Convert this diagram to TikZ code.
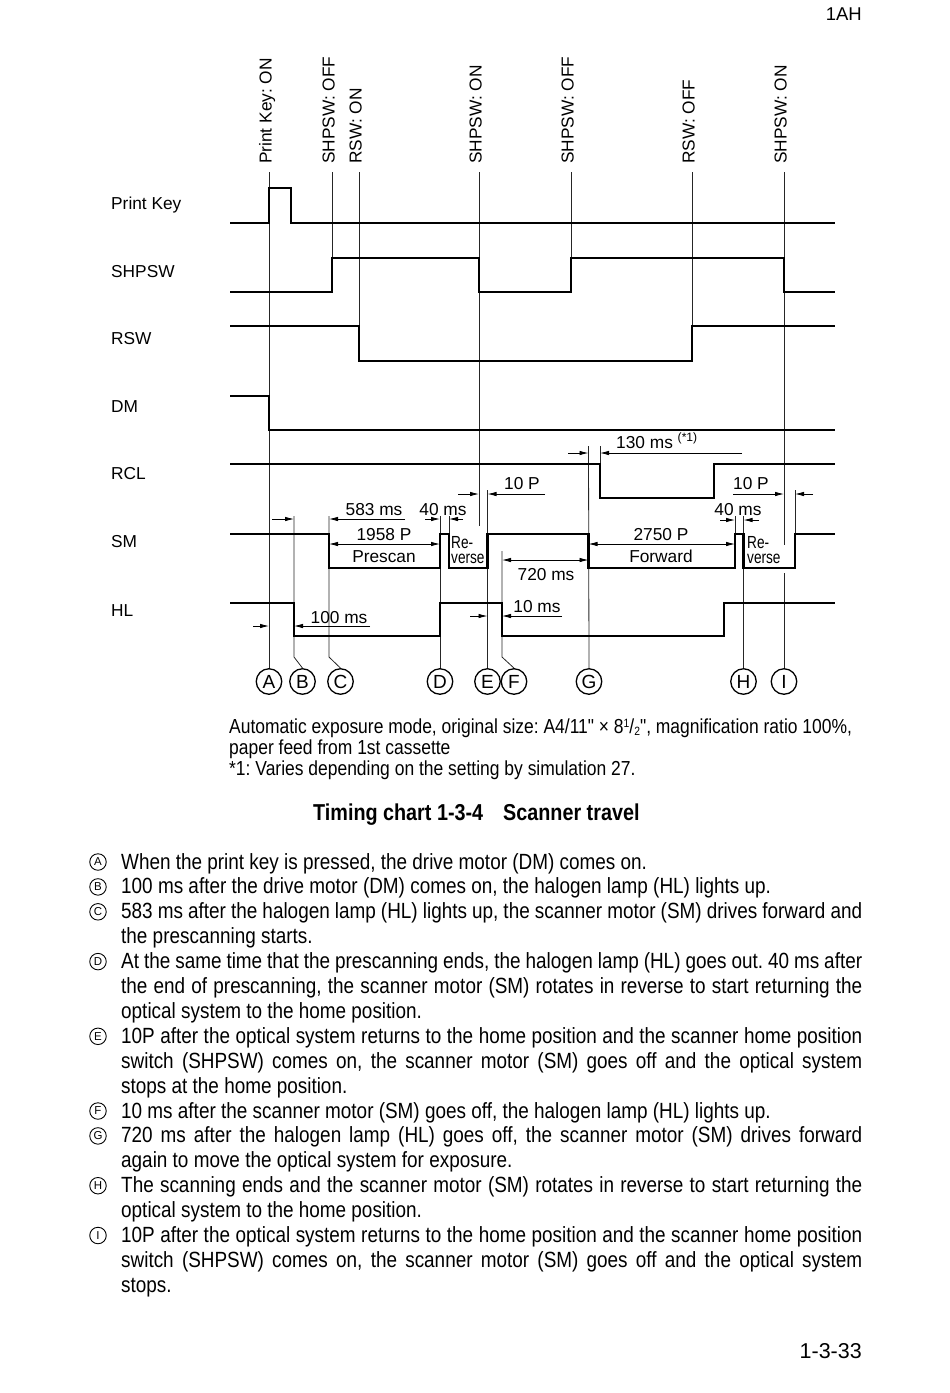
\documentclass[tikz,border=0pt]{standalone}
\usepackage{fontspec}
\setmainfont{Liberation Sans}
\newfontfamily\narrowfam[FakeStretch=0.86]{Liberation Sans}
\newfontfamily\tightfam[FakeStretch=0.78]{Liberation Sans}
\usetikzlibrary{arrows.meta}
\frenchspacing

\tikzset{
  sig/.style={line width=2.2pt},
  guide/.style={line width=0.8pt, black!85},
  dimr/.style={line width=0.8pt, -{Latex[length=9pt,width=4.5pt]}},
  dimlr/.style={line width=0.8pt, {Latex[length=9pt,width=4.5pt]}-{Latex[length=9pt,width=4.5pt]}},
  rowlabel/.style={anchor=base west, inner sep=0, font=\fontsize{17.3}{19}\selectfont},
  swlabel/.style={rotate=90, anchor=mid west, inner sep=0, font=\fontsize{17.3}{19}\selectfont},
  dimtxt/.style={anchor=base, inner sep=0, font=\fontsize{17.3}{19}\selectfont},
  revtxt/.style={anchor=base west, inner sep=0, align=left, font=\tightfam\fontsize{17.5}{15}\selectfont},
  evt/.style={circle, draw, line width=1.3pt, minimum size=25.5pt, inner sep=0, font=\fontsize{19}{20}\selectfont},
  itemmk/.style={circle, draw, line width=0.9pt, minimum size=16.5pt, inner sep=0, font=\fontsize{11.5}{12}\selectfont},
  itemtxt/.style={anchor=base west, inner sep=0, text width=741pt, align=justify, font=\narrowfam\fontsize{22}{24.9}\selectfont},
}
\newcommand{\smallfig}[1]{{\fontsize{12}{12}\selectfont #1}}

\begin{document}
\begin{tikzpicture}[x=1pt, y=-1pt]
  \useasboundingbox (0,0) rectangle (950,1393);

  \node[anchor=base east, inner sep=0, font=\fontsize{18.5}{20}\selectfont] (pgtop) at (862,20) {1AH};
  \node[anchor=base east, inner sep=0, font=\fontsize{21.5}{23}\selectfont] (pgnum) at (862,1358) {1-3-33};

  % switch events on top
  \node[swlabel] (sw1) at (269,164) {Print Key: ON};
  \node[swlabel] (sw2) at (332,164) {SHPSW: OFF};
  \node[swlabel] (sw3) at (359,164) {RSW: ON};
  \node[swlabel] (sw4) at (479,164) {SHPSW: ON};
  \node[swlabel] (sw5) at (571,164) {SHPSW: OFF};
  \node[swlabel] (sw6) at (692,164) {RSW: OFF};
  \node[swlabel] (sw7) at (784,164) {SHPSW: ON};

  % signal names
  \node[rowlabel] (lpk) at (111,209) {Print Key};
  \node[rowlabel] (lshp) at (111,277) {SHPSW};
  \node[rowlabel] (lrsw) at (111,344) {RSW};
  \node[rowlabel] (ldm) at (111,412) {DM};
  \node[rowlabel] (lrcl) at (111,479) {RCL};
  \node[rowlabel] (lsm) at (111,547) {SM};
  \node[rowlabel] (lhl) at (111,616) {HL};

  % event circles
  \node[evt] (cA) at (269,681.5) {A};
  \node[evt] (cB) at (302.5,681.5) {B};
  \node[evt] (cC) at (340.5,681.5) {C};
  \node[evt] (cD) at (440,681.5) {D};
  \node[evt] (cE) at (487.5,681.5) {E};
  \node[evt] (cF) at (514,681.5) {F};
  \node[evt] (cG) at (589,681.5) {G};
  \node[evt] (cH) at (743.5,681.5) {H};
  \node[evt] (cI) at (784,681.5) {I};

  % thin guide lines
  \draw[guide] (269,172) -- (cA.north);
  \draw[guide] (332,172) -- (332,258);
  \draw[guide] (359,172) -- (359,326);
  \draw[guide] (479,172) -- (479,526);
  \draw[guide] (571,172) -- (571,258);
  \draw[guide] (692,172) -- (692,361);
  \draw[guide] (784,172) -- (784,545);
  \draw[guide] (784,573) -- (cI.north);
  \draw[guide] (294,516) -- (294,657) -- (cB.north);
  \draw[guide] (329,516) -- (329,657) -- (cC.north);
  \draw[guide] (440,516) -- (cD.north);
  \draw[guide] (449,516) -- (449,534);
  \draw[guide] (487.5,490) -- (cE.north);
  \draw[guide] (502,551) -- (502,657) -- (cF.north);
  \draw[guide] (588.5,446) -- (cG.north);
  \draw[guide] (600,446) -- (600,464);
  \draw[guide] (743.5,516) -- (cH.north);
  \draw[guide] (735,516) -- (735,534);
  \draw[guide] (795,490) -- (795,534);

  % signals
  \draw[sig] (230,223) -| (269,188) -| (291,223) -- (835,223);
  \draw[sig] (230,292) -| (332,258) -| (479,292) -| (571,258) -| (784,292) -- (835,292);
  \draw[sig] (230,326) -| (359,361) -| (692,326) -- (835,326);
  \draw[sig] (230,396) -| (269,430) -- (835,430);
  \draw[sig] (230,464) -| (600,498) -| (714,464) -- (835,464);
  \draw[sig] (230,534) -| (329,568) -| (440,534) -| (449,568) -| (487.5,534) -| (588.5,568)
    -| (735,534) -| (743.5,568) -| (795,534) -- (835,534);
  \draw[sig] (230,603) -| (294,636) -| (440,603) -| (502,636) -| (724,603) -- (835,603);

  % timings
  \draw[dimr] (272,519) -- (294,519);
  \draw[dimr] (405,519) -- (329,519);
  \node[dimtxt] (t583) at (374,515) {583 ms};
  \draw[dimr] (425,519) -- (440,519);
  \draw[dimr] (463,519) -- (449,519);
  \node[dimtxt] (t40a) at (443,515) {40 ms};
  \draw[dimlr] (329,544) -- (440,544);
  \node[dimtxt] (t1958) at (384,540) {1958 P};
  \node[dimtxt] (tpre) at (384,562) {Prescan};
  \node[revtxt] (rev1) at (451,563) {Re-\\verse};
  \draw[dimr] (458,494) -- (479,494);
  \draw[dimr] (545,494) -- (487.5,494);
  \node[dimtxt] (t10pa) at (522,489) {10 P};
  \draw[dimr] (568,453) -- (588.5,453);
  \draw[dimr] (742,453) -- (600,453);
  \node[anchor=base west, inner sep=0, font=\fontsize{17.3}{19}\selectfont] (t130) at (616,448) {130 ms \textsuperscript{(*1)}};
  \draw[dimlr] (502,560) -- (588.5,560);
  \node[dimtxt] (t720) at (546,580) {720 ms};
  \draw[dimlr] (588.5,544) -- (735,544);
  \node[dimtxt] (t2750) at (661,540) {2750 P};
  \node[dimtxt] (tfwd) at (661,562) {Forward};
  \node[revtxt] (rev2) at (747,563) {Re-\\verse};
  \draw[dimr] (720,520) -- (735,520);
  \draw[dimr] (759,520) -- (743.5,520);
  \node[dimtxt] (t40b) at (738,515) {40 ms};
  \draw[dimr] (733,494) -- (784,494);
  \draw[dimr] (813,494) -- (795,494);
  \node[dimtxt] (t10pb) at (751,489) {10 P};
  \draw[dimr] (253,626) -- (269,626);
  \draw[dimr] (370,626) -- (294,626);
  \node[dimtxt] (t100) at (339,623) {100 ms};
  \draw[dimr] (470,616) -- (487.5,616);
  \draw[dimr] (562,616) -- (502,616);
  \node[dimtxt] (t10ms) at (537,612) {10 ms};

  % notes and caption
  \node[anchor=base west, inner sep=0, align=left, font=\narrowfam\fontsize{20.3}{21}\selectfont] (note) at (229,775)
    {Automatic exposure mode, original size: A4/11" × 8\raisebox{6pt}{\smallfig{1}}/\raisebox{-2.5pt}{\smallfig{2}}", magnification ratio 100\%,\\paper feed from 1st cassette\\{}*1: Varies depending on the setting by simulation 27.};
  \node[anchor=base west, inner sep=0, font=\narrowfam\bfseries\fontsize{23}{25}\selectfont] (title) at (313,820)
    {Timing chart 1-3-4\hspace{20pt}Scanner travel};

  % step list
  \node[itemmk] (mA) at (98,862) {A};
  \node[itemtxt] (tA) at (121,869) {When the print key is pressed, the drive motor (DM) comes on.};
  \node[itemmk] (mB) at (98,886.9) {B};
  \node[itemtxt] (tB) at (121,893.9) {100 ms after the drive motor (DM) comes on, the halogen lamp (HL) lights up.};
  \node[itemmk] (mC) at (98,911.8) {C};
  \node[itemtxt] (tC) at (121,918.8) {583 ms after the halogen lamp (HL) lights up, the scanner motor (SM) drives forward and\linebreak the prescanning starts.};
  \node[itemmk] (mD) at (98,961.6) {D};
  \node[itemtxt] (tD) at (121,968.6) {At the same time that the prescanning ends, the halogen lamp (HL) goes out. 40 ms after\linebreak the end of prescanning, the scanner motor (SM) rotates in reverse to start returning the\linebreak optical system to the home position.};
  \node[itemmk] (mE) at (98,1036.3) {E};
  \node[itemtxt] (tE) at (121,1043.3) {10P after the optical system returns to the home position and the scanner home position\linebreak switch (SHPSW) comes on, the scanner motor (SM) goes off and the optical system\linebreak stops at the home position.};
  \node[itemmk] (mF) at (98,1111) {F};
  \node[itemtxt] (tF) at (121,1118) {10 ms after the scanner motor (SM) goes off, the halogen lamp (HL) lights up.};
  \node[itemmk] (mG) at (98,1135.9) {G};
  \node[itemtxt] (tG) at (121,1142.9) {720 ms after the halogen lamp (HL) goes off, the scanner motor (SM) drives forward\linebreak again to move the optical system for exposure.};
  \node[itemmk] (mH) at (98,1185.7) {H};
  \node[itemtxt] (tH) at (121,1192.7) {The scanning ends and the scanner motor (SM) rotates in reverse to start returning the\linebreak optical system to the home position.};
  \node[itemmk] (mI) at (98,1235.5) {I};
  \node[itemtxt] (tI) at (121,1242.5) {10P after the optical system returns to the home position and the scanner home position\linebreak switch (SHPSW) comes on, the scanner motor (SM) goes off and the optical system\linebreak stops.};
\end{tikzpicture}
\end{document}
